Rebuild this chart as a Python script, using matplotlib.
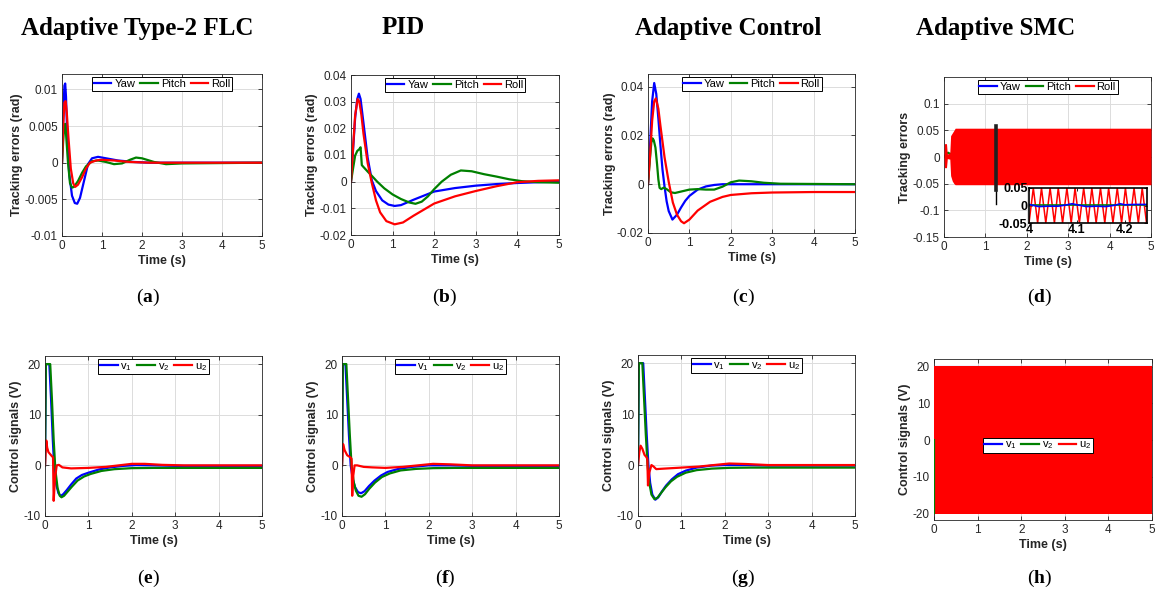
import numpy as np
import matplotlib
matplotlib.use("Agg")
from matplotlib import pyplot as plt
from matplotlib.lines import Line2D

plt.rcParams['font.family'] = ['Liberation Sans', 'DejaVu Sans']
plt.rcParams['axes.unicode_minus'] = False
plt.rcParams['mathtext.fontset'] = 'custom'
plt.rcParams['mathtext.rm'] = 'Liberation Sans'
plt.rcParams['mathtext.bf'] = 'Liberation Serif:bold'

BLUE, GREEN, RED = '#0000ff', '#008000', '#ff0000'
DARK = '#262626'

titles = ["Adaptive Type-2 FLC", "PID", "Adaptive Control", "Adaptive SMC"]
panel_tags = ["a", "b", "c", "d", "e", "f", "g", "h"]
err_names = ["Yaw", "Pitch", "Roll"]
ctl_names = ["v$_1$", "v$_2$", "u$_2$"]

# ---- (a) adaptive type-2 FLC tracking errors
yaw_a_t = [0, 0.03, 0.06, 0.08, 0.1, 0.13, 0.18, 0.25, 0.32, 0.38, 0.45, 0.55, 0.65, 0.75, 0.9, 1.1, 1.4, 1.8, 2.2, 3, 5]
yaw_a = [0, 0.006, 0.0105, 0.0108, 0.009, 0.004, -0.0015, -0.0045, -0.0055, -0.0056, -0.0048, -0.0025, -0.0002, 0.0006, 0.0008, 0.0006, 0.0003, 0.0001, 0, 0, 0]
pitch_a_t = [0, 0.03, 0.06, 0.08, 0.1, 0.15, 0.2, 0.25, 0.3, 0.4, 0.5, 0.6, 0.75, 0.9, 1.1, 1.3, 1.5, 1.7, 1.85, 2.0, 2.3, 2.6, 3.0, 5]
pitch_a = [0, 0.003, 0.0052, 0.0053, 0.004, 0.0, -0.0028, -0.0034, -0.0033, -0.0025, -0.0014, -0.0005, 0.0002, 0.0003, 0.0001, -0.0002, -0.0001, 0.0004, 0.0007, 0.0006, 0.0001, -0.0002, -0.0001, 0]
roll_a_t = [0, 0.03, 0.06, 0.09, 0.12, 0.16, 0.22, 0.28, 0.33, 0.4, 0.5, 0.6, 0.7, 0.85, 1.0, 1.3, 1.7, 2.2, 3, 5]
roll_a = [0, 0.005, 0.0082, 0.0084, 0.0068, 0.0035, -0.0008, -0.0028, -0.0033, -0.003, -0.002, -0.0008, 0.0, 0.0003, 0.0004, 0.0003, 0.0001, 0, 0, 0]

# ---- (b) PID tracking errors
yaw_b_t = [0, 0.05, 0.1, 0.15, 0.19, 0.23, 0.3, 0.4, 0.5, 0.6, 0.75, 0.9, 1.05, 1.2, 1.5, 2.0, 2.5, 3.0, 3.5, 4.0, 4.5, 5]
yaw_b = [0, 0.012, 0.024, 0.031, 0.033, 0.031, 0.022, 0.009, 0.0005, -0.0035, -0.007, -0.0086, -0.0091, -0.0088, -0.0068, -0.0037, -0.0024, -0.0015, -0.0009, -0.0005, -0.0002, 0]
pitch_b_t = [0, 0.05, 0.1, 0.15, 0.2, 0.23, 0.26, 0.3, 0.4, 0.5, 0.63, 0.8, 1.0, 1.2, 1.4, 1.55, 1.7, 1.85, 2.0, 2.18, 2.4, 2.64, 2.9, 3.2, 3.5, 3.8, 4.1, 4.5, 5]
pitch_b = [0, 0.005, 0.0098, 0.0115, 0.0122, 0.0129, 0.0062, 0.0055, 0.0038, 0.0022, 0, -0.0025, -0.0048, -0.0065, -0.0078, -0.0083, -0.0075, -0.0055, -0.0028, 0, 0.0026, 0.0042, 0.0039, 0.0028, 0.0019, 0.0009, 0.0002, -0.0002, -0.0004]
roll_b_t = [0, 0.05, 0.1, 0.16, 0.2, 0.25, 0.3, 0.4, 0.5, 0.6, 0.7, 0.85, 1.05, 1.25, 1.5, 2.0, 2.5, 3.0, 3.5, 4.0, 4.5, 5]
roll_b = [0, 0.013, 0.025, 0.031, 0.03, 0.025, 0.018, 0.007, -0.0005, -0.007, -0.0115, -0.0148, -0.016, -0.0153, -0.0128, -0.0082, -0.0055, -0.0035, -0.0017, -0.0002, 0.0003, 0.0005]

# ---- (c) adaptive control tracking errors
yaw_c_t = [0, 0.05, 0.1, 0.15, 0.2, 0.25, 0.3, 0.35, 0.4, 0.45, 0.5, 0.59, 0.7, 0.8, 0.9, 1.0, 1.2, 1.4, 1.6, 1.8, 2.2, 5]
yaw_c = [0, 0.016, 0.034, 0.0415, 0.037, 0.027, 0.016, 0.006, -0.001, -0.007, -0.011, -0.0145, -0.0125, -0.0095, -0.0068, -0.0048, -0.0022, -0.0009, -0.0003, 0, 0, 0]
pitch_c_t = [0, 0.04, 0.08, 0.11, 0.14, 0.18, 0.22, 0.25, 0.28, 0.32, 0.38, 0.45, 0.55, 0.65, 0.8, 1.0, 1.2, 1.4, 1.6, 1.8, 2.0, 2.2, 2.5, 2.8, 3.2, 5]
pitch_c = [0, 0.009, 0.017, 0.0188, 0.018, 0.015, 0.008, 0.002, -0.0015, -0.002, -0.0014, -0.002, -0.0033, -0.0036, -0.003, -0.0022, -0.002, -0.0022, -0.0022, -0.001, 0.0008, 0.0015, 0.0012, 0.0006, 0.0002, 0]
roll_c_t = [0, 0.05, 0.1, 0.15, 0.19, 0.25, 0.3, 0.4, 0.5, 0.6, 0.7, 0.8, 0.87, 1.0, 1.2, 1.5, 1.8, 2.0, 2.5, 3.0, 4.0, 5]
roll_c = [0, 0.012, 0.026, 0.034, 0.0352, 0.031, 0.024, 0.011, 0.001, -0.0075, -0.0125, -0.0152, -0.016, -0.0145, -0.0108, -0.0072, -0.0052, -0.0044, -0.0037, -0.0034, -0.0032, -0.0032]

# ---- (d) adaptive SMC: chattering roll envelope + zoomed window
band_d_t = [0, 0.01, 0.06, 0.08, 0.14, 0.16, 0.2, 0.24, 0.27, 5]
band_d_hi = [0, 0.025, 0.025, 0.005, 0.008, 0.04, 0.045, 0.05, 0.054, 0.054]
band_d_lo = [0, -0.02, -0.02, -0.003, -0.004, -0.035, -0.045, -0.05, -0.052, -0.052]
yaw_d_t = [0, 0.1, 0.2, 5]
yaw_d = [0, 0.002, 0.001, 0.0]
pitch_d_t = [0, 0.06, 0.1, 0.14, 5]
pitch_d = [0, 0.006, 0.008, 0.006, 0.002]
zoom_t = [4.000, 4.009, 4.018, 4.026, 4.035, 4.044, 4.053, 4.061, 4.070, 4.079,
          4.088, 4.096, 4.105, 4.114, 4.123, 4.131, 4.140, 4.149, 4.158, 4.166,
          4.175, 4.184, 4.193, 4.201, 4.210, 4.219, 4.228, 4.236, 4.245]
zoom_roll = [-0.05, 0.05, -0.05, 0.05, -0.05, 0.05, -0.05, 0.05, -0.05, 0.05,
             -0.05, 0.05, -0.05, 0.05, -0.05, 0.05, -0.05, 0.05, -0.05, 0.05,
             -0.05, 0.05, -0.05, 0.05, -0.05, 0.05, -0.05, 0.05, -0.05]
zoom_yaw_t = [4.0, 4.01, 4.02, 4.04, 4.06, 4.075, 4.09, 4.1, 4.12, 4.14, 4.16, 4.18, 4.19, 4.2, 4.22, 4.245]
zoom_yaw = [0.003, 0.0, -0.003, -0.002, -0.002, 0.001, 0.005, 0.002, -0.003, -0.002, -0.003, 0.001, 0.005, 0.002, 0.003, 0.003]
zoom_pitch_t = [4.0, 4.245]
zoom_pitch = [0.002, 0.002]
marker_d_t = 1.26

# ---- (e) FLC control signals
v1_e_t = [0, 0.02, 0.1, 0.14, 0.18, 0.21, 0.26, 0.31, 0.36, 0.42, 0.5, 0.6, 0.72, 0.85, 1.0, 1.25, 1.5, 1.8, 2.1, 2.5, 3, 5]
v1_e = [0, 20, 20, 13, 5, 0, -3.8, -5.5, -6.05, -5.7, -4.9, -3.8, -2.6, -1.9, -1.45, -0.8, -0.4, -0.1, 0.05, 0, -0.1, -0.1]
v2_e_t = [0, 0.02, 0.12, 0.16, 0.2, 0.24, 0.29, 0.34, 0.38, 0.44, 0.52, 0.62, 0.75, 0.9, 1.05, 1.3, 1.6, 2.0, 2.5, 3, 5]
v2_e = [0, 20, 20, 13, 5, -1, -4.5, -6.0, -6.3, -6.0, -5.2, -4.2, -3.0, -2.2, -1.7, -1.1, -0.75, -0.55, -0.5, -0.5, -0.5]
u2_e_t = [0, 0.03, 0.05, 0.08, 0.12, 0.16, 0.185, 0.2, 0.23, 0.27, 0.32, 0.4, 0.6, 1.0, 1.4, 1.7, 2.0, 2.3, 2.7, 3.2, 5]
u2_e = [0, 4.9, 3.5, 2.6, 2.2, 1.8, 1.6, -7.0, -2.5, 0, 0.1, -0.4, -0.6, -0.5, -0.3, 0, 0.3, 0.3, 0.1, 0, 0]

# ---- (f) PID control signals
v1_f_t = [0, 0.02, 0.08, 0.12, 0.16, 0.2, 0.25, 0.3, 0.37, 0.44, 0.52, 0.62, 0.75, 0.9, 1.05, 1.3, 1.6, 2.0, 2.5, 3, 5]
v1_f = [0, 20, 20, 13, 6, 0, -2.8, -4.3, -5.3, -5.5, -5.1, -4.1, -3.0, -2.0, -1.3, -0.7, -0.3, 0, 0, -0.1, -0.1]
v2_f_t = [0, 0.02, 0.1, 0.14, 0.18, 0.22, 0.27, 0.32, 0.38, 0.45, 0.53, 0.63, 0.76, 0.92, 1.1, 1.35, 1.7, 2.1, 2.6, 3, 5]
v2_f = [0, 20, 20, 13, 6, 0, -3.3, -5.0, -6.0, -6.2, -5.7, -4.6, -3.4, -2.3, -1.6, -1.0, -0.7, -0.55, -0.5, -0.5, -0.5]
u2_f_t = [0, 0.025, 0.06, 0.12, 0.19, 0.22, 0.235, 0.26, 0.29, 0.35, 0.5, 0.7, 1.0, 1.4, 1.75, 2.1, 2.5, 3, 5]
u2_f = [0, 4.2, 3.0, 2.0, 1.6, 1.3, -6.0, -2.0, 0, 0, -0.3, -0.4, -0.5, -0.3, 0, 0.3, 0.2, 0, 0]

# ---- (g) adaptive control signals
v1_g_t = [0, 0.02, 0.12, 0.16, 0.2, 0.24, 0.28, 0.33, 0.4, 0.47, 0.55, 0.65, 0.78, 0.92, 1.1, 1.35, 1.7, 2.0, 2.5, 3, 5]
v1_g = [0, 20, 20, 13, 6, 0, -3.5, -5.8, -6.8, -6.3, -5.2, -4.0, -2.8, -1.8, -1.1, -0.5, -0.1, 0, 0, -0.1, -0.1]
v2_g_t = [0, 0.02, 0.1, 0.14, 0.18, 0.22, 0.26, 0.31, 0.38, 0.45, 0.53, 0.63, 0.76, 0.9, 1.1, 1.35, 1.7, 2.1, 2.6, 3, 5]
v2_g = [0, 20, 20, 13, 6, 0, -3.5, -5.8, -6.7, -6.4, -5.5, -4.4, -3.2, -2.3, -1.5, -1.0, -0.7, -0.55, -0.5, -0.5, -0.5]
u2_g_t = [0, 0.03, 0.06, 0.1, 0.15, 0.19, 0.215, 0.23, 0.26, 0.31, 0.36, 0.42, 0.6, 1.0, 1.4, 1.75, 2.1, 2.5, 3, 5]
u2_g = [0, 2.5, 3.8, 3.2, 2.0, 1.6, 1.2, -4.0, -1.5, 0, -0.3, -0.8, -0.7, -0.5, -0.3, 0, 0.3, 0.2, 0, 0]

# ---- (h) adaptive SMC control signals (saturated chattering)
band_h_t = [0, 5]
band_h_hi = [20.3, 20.3]
band_h_lo = [-20.3, -20.3]
v1_h_t = [0, 5]
v1_h = [20.1, 20.1]
v2_h_t = [0, 0]
v2_h = [0, -20]

W, H = 1156, 597
fig = plt.figure(figsize=(W / 100, H / 100), dpi=100)
lw = 1.6


def px_axes(l, t, r, b):
    return fig.add_axes([l / W, 1 - b / H, (r - l) / W, (b - t) / H])


def style(ax, ylabel, ylim, yticks, yticklabels):
    ax.set_xlim(0, 5)
    ax.set_ylim(*ylim)
    ax.set_xticks([0, 1, 2, 3, 4, 5])
    ax.set_yticks(yticks)
    ax.set_yticklabels(yticklabels)
    ax.tick_params(direction='in', top=True, right=True, length=3, width=0.6,
                   colors=DARK, labelsize=8.5, pad=3)
    for s in ax.spines.values():
        s.set_color(DARK)
        s.set_linewidth(0.6)
    ax.grid(True, color='#dcdcdc', lw=0.7)
    ax.set_axisbelow(True)
    ax.set_xlabel("Time (s)", fontsize=9, fontweight='bold', color=DARK, labelpad=2)
    ax.set_ylabel(ylabel, fontsize=9, fontweight='bold', color=DARK, labelpad=1)


def legend(ax, names, **kw):
    handles = [Line2D([], [], color=c, lw=lw) for c in [BLUE, GREEN, RED]]
    leg = ax.legend(handles, names, ncol=3, fontsize=8, handlelength=1.6,
                    handletextpad=0.25, columnspacing=0.45, borderpad=0.15,
                    borderaxespad=0.3, fancybox=False, framealpha=1, **kw)
    leg.get_frame().set_edgecolor('black')
    leg.get_frame().set_linewidth(0.7)
    leg.set_zorder(10)
    return leg


err_axes = [px_axes(62, 74, 262, 236), px_axes(351, 75, 559, 235),
            px_axes(648, 74, 855, 233), px_axes(944, 77, 1151, 237)]
ctl_axes = [px_axes(45, 356, 262, 516), px_axes(342, 356, 559, 516),
            px_axes(638, 355, 855, 516), px_axes(934, 359, 1152, 520)]

err_data = [((yaw_a_t, yaw_a), (pitch_a_t, pitch_a), (roll_a_t, roll_a)),
            ((yaw_b_t, yaw_b), (pitch_b_t, pitch_b), (roll_b_t, roll_b)),
            ((yaw_c_t, yaw_c), (pitch_c_t, pitch_c), (roll_c_t, roll_c))]
err_lims = [((-0.01, 0.0121), [-0.01, -0.005, 0, 0.005, 0.01],
             ["-0.01", "-0.005", "0", "0.005", "0.01"]),
            ((-0.02, 0.04), [-0.02, -0.01, 0, 0.01, 0.02, 0.03, 0.04],
             ["-0.02", "-0.01", "0", "0.01", "0.02", "0.03", "0.04"]),
            ((-0.02, 0.0452), [-0.02, 0, 0.02, 0.04],
             ["-0.02", "0", "0.02", "0.04"])]
for ax, data, lims in zip(err_axes[:3], err_data, err_lims):
    for (t, y), c in zip(data, [BLUE, GREEN, RED]):
        ax.plot(t, y, color=c, lw=lw)
    style(ax, "Tracking errors (rad)", *lims)
    legend(ax, err_names, loc='upper center')

ctl_data = [((v1_e_t, v1_e), (v2_e_t, v2_e), (u2_e_t, u2_e)),
            ((v1_f_t, v1_f), (v2_f_t, v2_f), (u2_f_t, u2_f)),
            ((v1_g_t, v1_g), (v2_g_t, v2_g), (u2_g_t, u2_g))]
for ax, data in zip(ctl_axes[:3], ctl_data):
    for (t, y), c in zip(data, [BLUE, GREEN, RED]):
        ax.plot(t, y, color=c, lw=lw)
    style(ax, "Control signals (V)", (-10, 21.6), [-10, 0, 10, 20],
          ["-10", "0", "10", "20"])
    legend(ax, ctl_names, loc='upper center')

# (d) adaptive SMC errors
ax = err_axes[3]
ax.plot(yaw_d_t, yaw_d, color=BLUE, lw=lw)
ax.plot(pitch_d_t, pitch_d, color=GREEN, lw=lw)
ax.fill_between(band_d_t, band_d_lo, band_d_hi, color=RED, lw=0, zorder=3)
ax.plot([marker_d_t, marker_d_t], [-0.061, -0.089], color='black', lw=1, zorder=5)
ax.plot([marker_d_t, marker_d_t], [-0.061, 0.058], color='#202020', lw=2.6, zorder=5)
style(ax, "Tracking errors", (-0.15, 0.15), [-0.15, -0.1, -0.05, 0, 0.05, 0.1],
      ["-0.15", "-0.1", "-0.05", "0", "0.05", "0.1"])
legend(ax, err_names, loc='upper center')

ins = px_axes(1029, 188, 1147, 223)
ins.plot(zoom_t, zoom_roll, color=RED, lw=1.1)
ins.plot(zoom_pitch_t, zoom_pitch, color=GREEN, lw=1.2)
ins.plot(zoom_yaw_t, zoom_yaw, color=BLUE, lw=1.2)
ins.set_xlim(4.0, 4.246)
ins.set_ylim(-0.05, 0.05)
ins.set_xticks([4.0, 4.1, 4.2])
ins.set_xticklabels(["4", "4.1", "4.2"])
ins.set_yticks([-0.05, 0, 0.05])
ins.set_yticklabels(["-0.05", "0", "0.05"])
ins.tick_params(direction='in', top=True, right=True, length=2, width=0.6,
                labelsize=9, pad=1, colors='black')
for lab in ins.get_xticklabels() + ins.get_yticklabels():
    lab.set_fontweight('bold')
for s in ins.spines.values():
    s.set_linewidth(1.2)
    s.set_color('black')

# (h) adaptive SMC control signals
ax = ctl_axes[3]
ax.plot(v1_h_t, v1_h, color=BLUE, lw=0.8)
ax.plot(v2_h_t, v2_h, color=GREEN, lw=lw, zorder=4)
ax.fill_between(band_h_t, band_h_lo, band_h_hi, color=RED, lw=0, zorder=3)
style(ax, "Control signals (V)", (-21.8, 22.1), [-20, -10, 0, 10, 20],
      ["-20", "-10", "0", "10", "20"])
legend(ax, ctl_names, loc='center', bbox_to_anchor=(0.476, 0.463))

# column titles and panel tags
title_x = [137, 403, 728, 996]
for x, t in zip(title_x, titles):
    fig.text(x / W, 1 - 28 / H, t, ha='center', va='center', fontsize=18,
             fontweight='bold', family='Liberation Serif')
tag_x = [148, 445, 743, 1040]
for i, tag in enumerate(panel_tags):
    y = 297 if i < 4 else 578
    fig.text(tag_x[i % 4] / W, 1 - y / H, r"($\mathbf{%s}$)" % tag,
             ha='center', va='center', fontsize=14, family='Liberation Serif')

fig.savefig("out.png", dpi=100)
